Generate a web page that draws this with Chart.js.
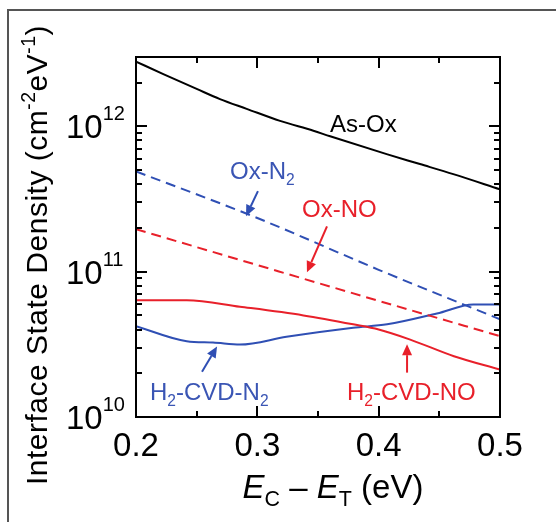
<!DOCTYPE html>
<html>
<head>
<meta charset="utf-8">
<script src="https://cdn.jsdelivr.net/npm/chart.js@4.4.0/dist/chart.umd.min.js"></script>
<style>
  html, body { margin: 0; padding: 0; background: #fff; }
</style>
</head>
<body>
<canvas id="dosChart" width="556" height="522"></canvas>
<script>
// energy (eV) and interface state density (cm^-2 eV^-1)
const asOxX = [0.2, 0.2225, 0.25, 0.2692, 0.2912, 0.3187, 0.3462, 0.36, 0.4066, 0.434, 0.4615, 0.5];
const asOxY = [2.79e12, 2.29e12, 1.81e12, 1.54e12, 1.32e12, 1.09e12, 9.33e11, 8.54e11, 6.44e11, 5.5e11, 4.69e11, 3.69e11];

const oxN2X = [0.2, 0.3, 0.4, 0.5];
const oxN2Y = [4.9e11, 2.34e11, 1.03e11, 4.7e10];

const oxNOX = [0.2, 0.3, 0.4, 0.5];
const oxNOY = [1.96e11, 1.11e11, 6.3e10, 3.6e10];

const cvdNOX = [0.2, 0.2418, 0.2857, 0.338, 0.379, 0.4, 0.426, 0.462, 0.5];
const cvdNOY = [6.37e10, 6.37e10, 5.74e10, 5.0e10, 4.34e10, 4.0e10, 3.41e10, 2.62e10, 2.12e10];

const cvdN2X = [0.2, 0.2418, 0.2635, 0.2857, 0.324, 0.379, 0.407, 0.448, 0.478, 0.5];
const cvdN2Y = [4.22e10, 3.32e10, 3.25e10, 3.15e10, 3.56e10, 4.11e10, 4.34e10, 5.15e10, 5.94e10, 5.94e10];

// axis ticks
const xMajor = [0.2, 0.3, 0.4, 0.5];
const xMinor = [0.25, 0.35, 0.45];
const yDecades = [10, 11, 12];

// annotation labels (left edge x, baseline y in data units)
const labelParts = [
    [["As-Ox", ""]],
    [["Ox-N", ""], ["2", "sub"]],
    [["Ox-NO", ""]],
    [["H", ""], ["2", "sub"], ["-CVD-N", ""], ["2", "sub"]],
    [["H", ""], ["2", "sub"], ["-CVD-NO", ""]]
];
const labelX = [0.3599, 0.2775, 0.3368, 0.2115, 0.3739];
const labelY = [9.14e11, 4.33e11, 2.37e11, 1.31e10, 1.31e10];
const labelColors = ["#000000", "#3a55b4", "#e8202a", "#3a55b4", "#e8202a"];

// arrows: tail -> tip, data units
const arrowFromX = [0.3005, 0.3574, 0.2544, 0.4234];
const arrowFromY = [3.58e11, 2.05e11, 2.05e10, 2.02e10];
const arrowToX = [0.2907, 0.3409, 0.2668, 0.4234];
const arrowToY = [2.41e11, 9.9e10, 3.05e10, 3.17e10];
const arrowColors = ["#2f4fb4", "#e8202a", "#2f4fb4", "#e8202a"];

const BLUE = "#2f4fb4";
const RED = "#e8202a";
const FONT = "'Liberation Sans', Arial, sans-serif";

function toPoints(xs, ys) {
    return xs.map((x, i) => ({ x: x, y: ys[i] }));
}

function drawRich(ctx, parts, x, y, size, color, align) {
    const small = size * 0.65;
    const fontFor = (mode) => {
        if (mode === "i") return "italic " + size + "px " + FONT;
        if (mode === "sub" || mode === "sup") return small + "px " + FONT;
        return size + "px " + FONT;
    };
    let total = 0;
    const widths = parts.map(([t, mode]) => {
        ctx.font = fontFor(mode);
        const w = ctx.measureText(t).width;
        total += w;
        return w;
    });
    let cx = x;
    if (align === "center") cx = x - total / 2;
    ctx.fillStyle = color;
    ctx.textAlign = "left";
    ctx.textBaseline = "alphabetic";
    parts.forEach(([t, mode], i) => {
        ctx.font = fontFor(mode);
        let dy = 0;
        if (mode === "sub") dy = size * 0.25;
        if (mode === "sup") dy = -size * 0.4;
        ctx.fillText(t, cx, y + dy);
        cx += widths[i];
    });
    return total;
}

function drawArrow(ctx, x1, y1, x2, y2, color) {
    const ang = Math.atan2(y2 - y1, x2 - x1);
    const head = 11, half = 5;
    const bx = x2 - head * Math.cos(ang), by = y2 - head * Math.sin(ang);
    ctx.strokeStyle = color;
    ctx.fillStyle = color;
    ctx.lineWidth = 2;
    ctx.beginPath();
    ctx.moveTo(x1, y1);
    ctx.lineTo(bx, by);
    ctx.stroke();
    ctx.beginPath();
    ctx.moveTo(x2, y2);
    ctx.lineTo(bx + half * Math.sin(ang), by - half * Math.cos(ang));
    ctx.lineTo(bx - half * Math.sin(ang), by + half * Math.cos(ang));
    ctx.closePath();
    ctx.fill();
}

const decorations = {
    id: "decorations",
    afterDraw(chart) {
        const ctx = chart.ctx;
        const a = chart.chartArea;
        const xs = chart.scales.x, ys = chart.scales.y;
        ctx.save();

        // outer figure frame
        ctx.strokeStyle = "#555";
        ctx.lineWidth = 2;
        ctx.beginPath();
        ctx.moveTo(8, 522);
        ctx.lineTo(8, 10);
        ctx.lineTo(556, 10);
        ctx.stroke();

        // plot box
        ctx.strokeStyle = "#000";
        ctx.lineWidth = 2;
        ctx.strokeRect(a.left, a.top, a.right - a.left, a.bottom - a.top);

        // inward ticks on all four sides
        const major = 11, minor = 6;
        ctx.lineWidth = 2;
        ctx.beginPath();
        xMajor.concat(xMinor).forEach((v) => {
            const len = xMajor.includes(v) ? major : minor;
            const px = Math.round(xs.getPixelForValue(v));
            ctx.moveTo(px, a.bottom); ctx.lineTo(px, a.bottom - len);
            ctx.moveTo(px, a.top); ctx.lineTo(px, a.top + len);
        });
        yDecades.forEach((d) => {
            for (let m = 1; m <= 9; m++) {
                const v = m * Math.pow(10, d);
                if (v < ys.min || v > ys.max) continue;
                const len = m === 1 ? major : minor;
                const py = Math.round(ys.getPixelForValue(v));
                ctx.moveTo(a.left, py); ctx.lineTo(a.left + len, py);
                ctx.moveTo(a.right, py); ctx.lineTo(a.right - len, py);
            }
        });
        ctx.stroke();

        // y tick labels 10^n
        yDecades.forEach((d) => {
            const py = ys.getPixelForValue(Math.pow(10, d));
            ctx.font = "33px " + FONT;
            ctx.fillStyle = "#000";
            ctx.textAlign = "left";
            ctx.textBaseline = "alphabetic";
            ctx.fillText("10", 66, py + 12);
            const w = ctx.measureText("10").width;
            ctx.font = "20px " + FONT;
            ctx.fillText(String(d), 66 + w, py - 6);
        });

        // x axis title
        const cx = (a.left + a.right) / 2 + 15;
        drawRich(ctx, [["E", "i"], ["C", "sub"], [" \u2013 ", ""], ["E", "i"], ["T", "sub"], [" (eV)", ""]],
            cx, 498, 33, "#000", "center");

        // y axis title
        ctx.save();
        ctx.translate(47, (a.top + a.bottom) / 2 + 18);
        ctx.rotate(-Math.PI / 2);
        ctx.letterSpacing = "0.5px";
        drawRich(ctx, [["Interface State Density (cm", ""], ["-2", "sup"], ["eV", ""], ["-1", "sup"], [")", ""]],
            0, 0, 30, "#000", "center");
        ctx.restore();

        // curve labels
        labelParts.forEach((parts, i) => {
            drawRich(ctx, parts, xs.getPixelForValue(labelX[i]), ys.getPixelForValue(labelY[i]),
                24, labelColors[i], "left");
        });

        // arrows
        arrowFromX.forEach((x0, i) => {
            drawArrow(ctx,
                xs.getPixelForValue(x0), ys.getPixelForValue(arrowFromY[i]),
                xs.getPixelForValue(arrowToX[i]), ys.getPixelForValue(arrowToY[i]),
                arrowColors[i]);
        });

        ctx.restore();
    }
};

const ctx = document.getElementById("dosChart").getContext("2d");
new Chart(ctx, {
    type: "line",
    data: {
        datasets: [
            { label: "As-Ox", data: toPoints(asOxX, asOxY), borderColor: "#000", borderWidth: 2 },
            { label: "Ox-N2", data: toPoints(oxN2X, oxN2Y), borderColor: BLUE, borderWidth: 2, borderDash: [10, 6] },
            { label: "Ox-NO", data: toPoints(oxNOX, oxNOY), borderColor: RED, borderWidth: 2, borderDash: [10, 6] },
            { label: "H2-CVD-NO", data: toPoints(cvdNOX, cvdNOY), borderColor: RED, borderWidth: 2 },
            { label: "H2-CVD-N2", data: toPoints(cvdN2X, cvdN2Y), borderColor: BLUE, borderWidth: 2 }
        ]
    },
    options: {
        responsive: false,
        animation: false,
        devicePixelRatio: 1,
        elements: {
            point: { radius: 0 },
            line: { fill: false, cubicInterpolationMode: "monotone" }
        },
        layout: { padding: { left: 136, top: 57, right: 56, bottom: 0 } },
        plugins: {
            legend: { display: false },
            tooltip: { enabled: false }
        },
        scales: {
            x: {
                type: "linear",
                min: 0.2,
                max: 0.5,
                grid: { display: false, drawTicks: false },
                border: { display: false },
                ticks: {
                    stepSize: 0.1,
                    autoSkip: false,
                    maxRotation: 0,
                    color: "#000",
                    padding: 10,
                    font: { family: "Liberation Sans", size: 33 },
                    callback: (v) => v.toFixed(1)
                },
                afterFit: (scale) => { scale.height = 105; }
            },
            y: {
                type: "logarithmic",
                min: 1e10,
                max: 3e12,
                display: false
            }
        }
    },
    plugins: [decorations]
});
</script>
</body>
</html>
